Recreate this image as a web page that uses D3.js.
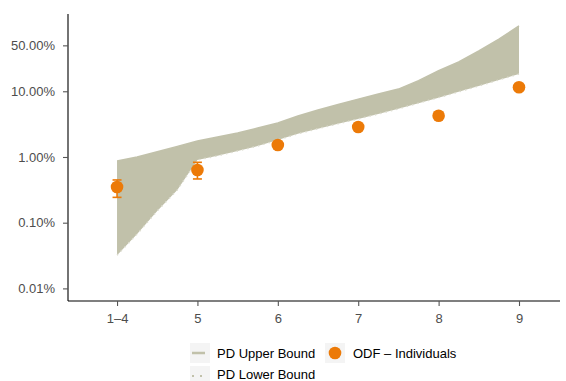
<!DOCTYPE html>
<html>
<head>
<meta charset="utf-8">
<script src="https://cdn.jsdelivr.net/npm/d3@7"></script>
<style>
  html, body { margin: 0; padding: 0; background: #fff; }
  svg { display: block; font-family: "Liberation Sans", Arial, Helvetica, sans-serif; }
</style>
</head>
<body>
<svg id="chart" width="566" height="381"></svg>
<script>
// Score buckets on the x axis
const categories = ["1–4", "5", "6", "7", "8", "9"];

// PD bounds (percent), sampled every quarter bucket from "1–4" to "9"
const boundPos = [0, 0.25, 0.5, 0.75, 1, 1.25, 1.5, 1.75, 2, 2.25, 2.5, 2.75, 3, 3.25, 3.5, 3.75, 4, 4.25, 4.5, 4.75, 5];
const pdUpper = [0.87, 1.0, 1.2, 1.45, 1.75, 2.02, 2.32, 2.76, 3.3, 4.2, 5.2, 6.3, 7.6, 9.1, 10.8, 14.5, 20.5, 28.0, 41.0, 62.0, 98.6];
const pdLower = [0.032, 0.067, 0.151, 0.315, 0.9, 1.04, 1.23, 1.47, 1.81, 2.25, 2.7, 3.2, 3.8, 4.5, 5.4, 6.6, 8.0, 9.8, 12.0, 14.9, 18.3];

// Observed default frequency per bucket (percent) with interval ends
const odfValue = [0.35, 0.634, 1.52, 2.86, 4.25, 11.5];
const odfLow   = [0.243, 0.463, 1.45, 2.78, 4.15, 11.3];
const odfHigh  = [0.447, 0.83, 1.6, 2.95, 4.36, 11.7];

// Y axis ticks (percent)
const yTicks = [0.01, 0.1, 1, 10, 50];

const svg = d3.select("#chart");
const bandColor = "#c1c1aa";
const orange = "#ec7a08";
const textColor = "#4d4d4d";

const x = d3.scaleLinear().domain([-0.61, 5.51]).range([68, 560]);
const y = d3.scaleLog().domain([0.00643, 150]).range([301, 14]);

// Band between the PD bounds
const band = boundPos.map((p, i) => ({ p, hi: pdUpper[i], lo: pdLower[i] }));
svg.append("path")
  .datum(band)
  .attr("fill", bandColor)
  .attr("d", d3.area().x(d => x(d.p)).y0(d => y(d.lo)).y1(d => y(d.hi)));

svg.append("path")
  .datum(band)
  .attr("fill", "none")
  .attr("stroke", bandColor)
  .attr("stroke-width", 1.5)
  .attr("d", d3.line().x(d => x(d.p)).y(d => y(d.hi)));

svg.append("path")
  .datum(band)
  .attr("fill", "none")
  .attr("stroke", "#dcdccf")
  .attr("stroke-width", 1.5)
  .attr("stroke-dasharray", "1.5,4")
  .attr("d", d3.line().x(d => x(d.p)).y(d => y(d.lo)));

// Error bars and points
const odf = categories.map((c, i) => ({ i, v: odfValue[i], lo: odfLow[i], hi: odfHigh[i] }));
const eb = svg.append("g").attr("stroke", orange).attr("stroke-width", 1.6);
odf.forEach(d => {
  const cx = x(d.i);
  eb.append("line").attr("x1", cx).attr("x2", cx).attr("y1", y(d.lo)).attr("y2", y(d.hi));
  eb.append("line").attr("x1", cx - 4.5).attr("x2", cx + 4.5).attr("y1", y(d.lo)).attr("y2", y(d.lo));
  eb.append("line").attr("x1", cx - 4.5).attr("x2", cx + 4.5).attr("y1", y(d.hi)).attr("y2", y(d.hi));
});
svg.append("g").selectAll("circle").data(odf).join("circle")
  .attr("cx", d => x(d.i))
  .attr("cy", d => y(d.v))
  .attr("r", 6.3)
  .attr("fill", orange);

// Axes
const yAxis = d3.axisLeft(y)
  .tickValues(yTicks)
  .tickFormat(d => d3.format(".2f")(d) + "%")
  .tickSize(5)
  .tickPadding(8);
const gy = svg.append("g").attr("transform", "translate(68,0)").call(yAxis);

const xAxis = d3.axisBottom(x)
  .tickValues(d3.range(categories.length))
  .tickFormat(i => categories[i])
  .tickSize(5)
  .tickPadding(8);
const gx = svg.append("g").attr("transform", "translate(0,301)").call(xAxis);

[gx, gy].forEach(g => {
  g.select(".domain").attr("stroke", "#000").attr("stroke-width", 1.1);
  g.selectAll(".tick line").attr("stroke", "#555").attr("stroke-width", 1.1);
  g.selectAll(".tick text").attr("fill", textColor).attr("font-size", 13)
    .attr("font-family", "'Liberation Sans', Arial, Helvetica, sans-serif");
});
// continuous domain lines without end caps
gy.select(".domain").attr("d", "M0,14V301");
gx.select(".domain").attr("d", "M68,0H560");

// Legend
const legend = svg.append("g").attr("font-size", 13).attr("fill", "#000");
function keyBox(kx, ky) {
  legend.append("rect").attr("x", kx).attr("y", ky).attr("width", 20).attr("height", 20).attr("fill", "#f4f4f4");
}
keyBox(190, 343);
legend.append("line").attr("x1", 192).attr("x2", 205).attr("y1", 353).attr("y2", 353)
  .attr("stroke", bandColor).attr("stroke-width", 2.5);
legend.append("text").attr("x", 217).attr("y", 358).text("PD Upper Bound");

keyBox(190, 366);
legend.append("line").attr("x1", 192).attr("x2", 208).attr("y1", 376).attr("y2", 376)
  .attr("stroke", bandColor).attr("stroke-width", 2).attr("stroke-dasharray", "2,6");
legend.append("text").attr("x", 217).attr("y", 379).text("PD Lower Bound");

keyBox(325, 343);
legend.append("circle").attr("cx", 335).attr("cy", 353).attr("r", 6.3).attr("fill", orange);
legend.append("text").attr("x", 353).attr("y", 358).text("ODF – Individuals");
</script>
</body>
</html>
